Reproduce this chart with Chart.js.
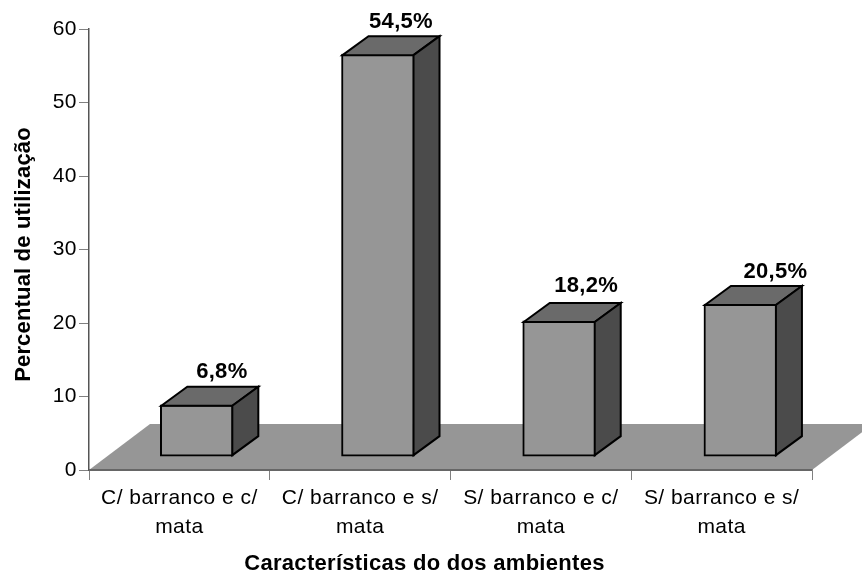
<!DOCTYPE html>
<html><head><meta charset="utf-8">
<style>html,body{margin:0;padding:0;background:#fff}canvas{display:block}</style>
<script src="https://cdn.jsdelivr.net/npm/chart.js@4"></script></head>
<body><canvas id="c" width="862" height="578"></canvas>
<script>
const categories = [["C/ barranco e c/","mata"],["C/ barranco e s/","mata"],["S/ barranco e c/","mata"],["S/ barranco e s/","mata"]];
const barPositions = [0,1,2,3];
const values = [6.8,54.5,18.2,20.5];
const yTitle = "Percentual de utilização";
const xTitle = "Características do dos ambientes";
const labelNudgeX = [0,-2,2,10];
const labelNudgeY = [0,1,-2,1];
const FONT = "'Liberation Sans', Arial, sans-serif";
const depthX = 26, depthY = 19, floorDepthX = 61, floorDepthY = 46;
const threeD = {
  id:'threeD',
  beforeDraw(chart){ chart.ctx.letterSpacing='0.45px'; },
  beforeDatasetsDraw(chart){
    const {ctx,chartArea:a}=chart;
    ctx.save();
    ctx.fillStyle='#969696';
    ctx.beginPath();
    ctx.moveTo(a.left,a.bottom);ctx.lineTo(a.right,a.bottom);
    ctx.lineTo(a.right+floorDepthX,a.bottom-floorDepthY);
    ctx.lineTo(a.left+floorDepthX,a.bottom-floorDepthY);
    ctx.closePath();ctx.fill();
    ctx.strokeStyle='#666';ctx.lineWidth=2;
    ctx.beginPath();ctx.moveTo(a.left,a.bottom);ctx.lineTo(a.right,a.bottom);ctx.stroke();
    ctx.restore();
  },
  afterDatasetsDraw(chart){
    const {ctx,chartArea:a}=chart;
    chart.getDatasetMeta(0).data.forEach((b,i)=>{
      const l=b.x-b.width/2+1,r=b.x+b.width/2-1,t=b.y+1,bo=b.base-1;
      ctx.save();
      ctx.strokeStyle='#000';ctx.lineWidth=2;ctx.lineJoin='miter';
      ctx.fillStyle='#6a6a6a';
      ctx.beginPath();ctx.moveTo(l,t);ctx.lineTo(l+depthX,t-depthY);ctx.lineTo(r+depthX,t-depthY);ctx.lineTo(r,t);ctx.closePath();ctx.fill();ctx.stroke();
      ctx.fillStyle='#4b4b4b';
      ctx.beginPath();ctx.moveTo(r,t);ctx.lineTo(r+depthX,t-depthY);ctx.lineTo(r+depthX,bo-depthY);ctx.lineTo(r,bo);ctx.closePath();ctx.fill();ctx.stroke();
      ctx.fillStyle='#000';ctx.letterSpacing='0.3px';ctx.font="bold 22px "+FONT;ctx.textAlign='center';ctx.textBaseline='middle';
      ctx.fillText(String(values[i]).replace('.',',')+'%',b.x+depthX-1+labelNudgeX[i],t-depthY-15+labelNudgeY[i]);
      ctx.restore();
    });
    ctx.save();
    ctx.fillStyle='#000';ctx.font="bold 22px "+FONT;ctx.textAlign='center';ctx.textBaseline='middle';
    ctx.letterSpacing='0.3px';
    ctx.fillText(xTitle,(a.left+a.right)/2-26,564);
    ctx.letterSpacing='0.17px';
    ctx.translate(24,(a.top+a.bottom)/2+5);ctx.rotate(-Math.PI/2);
    ctx.fillText(yTitle,0,0);
    ctx.restore();
  }
};
new Chart(document.getElementById('c'),{
  type:'bar',
  data:{labels:categories,datasets:[{
    data:barPositions.map((p,i)=>({x:p,y:values[i]})),
    xAxisID:'xb',yAxisID:'yb',base:-0.2,
    backgroundColor:'#969696',borderColor:'#000',borderWidth:2,borderSkipped:false,barThickness:73
  }]},
  plugins:[threeD],
  options:{
    responsive:false,animation:false,
    layout:{padding:{left:14,right:50,top:29,bottom:0}},
    plugins:{legend:{display:false},tooltip:{enabled:false}},
    scales:{
      xb:{type:'linear',display:false,offset:false,min:-0.595,max:3.395},
      yb:{type:'linear',display:false,min:-2.08,max:57.92},
      x:{type:'category',position:'bottom',offset:true,
        grid:{drawOnChartArea:false,color:'#808080',tickLength:10,offset:true},
        border:{color:'#555',width:1.5},
        ticks:{color:'#000',font:{family:FONT,size:21,lineHeight:1.38},maxRotation:0,autoSkip:false,padding:4},
        afterFit(s){s.height=108}
      },
      y:{type:'linear',position:'left',min:0,max:60,
        grid:{drawOnChartArea:false,color:'#808080',tickLength:10},
        border:{color:'#555',width:1.5},
        ticks:{color:'#000',stepSize:10,font:{family:FONT,size:21},padding:2},
        afterFit(s){s.width=75}
      }
    }
  }
});
</script></body></html>
